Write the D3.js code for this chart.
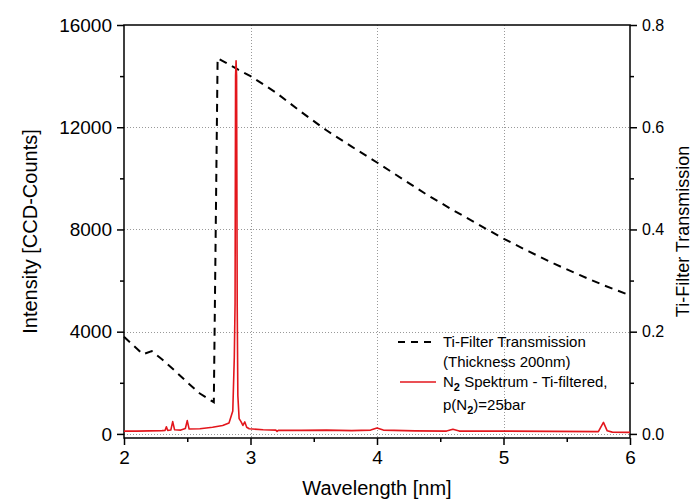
<!DOCTYPE html>
<html>
<head>
<meta charset="utf-8">
<script src="https://cdn.jsdelivr.net/npm/d3@7"></script>
<style>
  body { margin: 0; background: #fff; }
  svg { font-family: "Liberation Sans", Arial, sans-serif; }
</style>
</head>
<body>
<svg id="chart" width="699" height="503"></svg>
<script>
// Ti-filter transmission (right axis)
const transX = [2.00, 2.07, 2.15, 2.22, 2.30, 2.40, 2.50, 2.60, 2.71, 2.74, 2.80, 2.90, 3.00, 3.20, 3.40, 3.60, 3.80, 4.00, 4.20, 4.40, 4.60, 4.80, 5.00, 5.20, 5.40, 5.60, 5.80, 6.00];
const transY = [0.190, 0.174, 0.156, 0.162, 0.146, 0.124, 0.101, 0.079, 0.062, 0.735, 0.727, 0.713, 0.700, 0.668, 0.630, 0.594, 0.562, 0.531, 0.499, 0.467, 0.438, 0.410, 0.382, 0.357, 0.333, 0.311, 0.290, 0.271];

// N2 spectrum (left axis, CCD counts)
const specX = [2.00, 2.10, 2.20, 2.30, 2.325, 2.335, 2.345, 2.37, 2.385, 2.40, 2.45, 2.485, 2.50, 2.515, 2.60, 2.70, 2.78, 2.83, 2.86, 2.872, 2.878, 2.882, 2.886, 2.890, 2.895, 2.90, 2.91, 2.925, 2.94, 2.955, 2.97, 2.99, 3.10, 3.20, 3.21, 3.22, 3.40, 3.60, 3.80, 3.95, 4.00, 4.05, 4.30, 4.55, 4.60, 4.65, 5.00, 5.40, 5.75, 5.79, 5.82, 5.86, 6.00];
const specY = [110, 110, 120, 130, 140, 280, 140, 150, 480, 160, 150, 210, 520, 190, 200, 260, 330, 430, 900, 3000, 5100, 14000, 14600, 14000, 5000, 1500, 600, 480, 330, 470, 260, 200, 160, 150, 100, 140, 140, 150, 130, 150, 230, 150, 120, 110, 180, 110, 110, 100, 90, 450, 120, 70, 60];

const xTicks = [2, 3, 4, 5, 6];
const yLeftTicks = [0, 4000, 8000, 12000, 16000];
const yRightTicks = [0.0, 0.2, 0.4, 0.6, 0.8];

const svg = d3.select("#chart");
const margin = { left: 124, right: 69, top: 25, bottom: 65 };
const W = 699, H = 503;

const x = d3.scaleLinear().domain([2, 6]).range([margin.left, W - margin.right]);
const yL = d3.scaleLinear().domain([-160, 16000]).range([H - margin.bottom, margin.top]);
const yR = d3.scaleLinear().domain([-0.008, 0.8]).range([H - margin.bottom, margin.top]);

const x0 = margin.left, x1 = W - margin.right, yb = H - margin.bottom, yt = margin.top;

// grid
const grid = svg.append("g").attr("stroke", "#999").attr("stroke-width", 1).attr("stroke-dasharray", "1,2");
grid.selectAll("line.h").data(yLeftTicks.slice(0, -1)).join("line")
  .attr("x1", x0).attr("x2", x1)
  .attr("y1", d => Math.round(yL(d)) + 0.5).attr("y2", d => Math.round(yL(d)) + 0.5);
grid.selectAll("line.v").data(xTicks.slice(1, -1)).join("line")
  .attr("y1", yt).attr("y2", yb)
  .attr("x1", d => Math.round(x(d)) + 0.5).attr("x2", d => Math.round(x(d)) + 0.5);

// axes
const fmtInt = d3.format("d");
const leftAxis = d3.axisLeft(yL).tickValues(yLeftTicks).tickFormat(fmtInt).tickSize(7).tickPadding(5);
const leftMinor = d3.axisLeft(yL).tickValues(d3.range(2000, 16000, 4000)).tickFormat("").tickSize(4);
const rightAxis = d3.axisRight(yR).tickValues(yRightTicks).tickFormat(d3.format(".1f")).tickSize(7).tickPadding(5);
const rightMinor = d3.axisRight(yR).tickValues([0.1, 0.3, 0.5, 0.7]).tickFormat("").tickSize(4);
const bottomAxis = d3.axisBottom(x).tickValues(xTicks).tickFormat(fmtInt).tickSize(7).tickPadding(6);
const bottomMinor = d3.axisBottom(x).tickValues([2.5, 3.5, 4.5, 5.5]).tickFormat("").tickSize(4);

function styleAxis(g, fs) {
  g.select(".domain").remove();
  g.selectAll(".tick line").attr("stroke", "#000").attr("stroke-width", 1.5);
  g.selectAll(".tick text").attr("fill", "#000").style("font-size", fs + "px")
    .style("font-family", "'Liberation Sans', Arial, sans-serif");
}

svg.append("g").attr("transform", `translate(${x0},0)`).call(leftAxis).call(g => styleAxis(g, 19));
svg.append("g").attr("transform", `translate(${x0},0)`).call(leftMinor).call(g => styleAxis(g, 19));
svg.append("g").attr("transform", `translate(${x1},0)`).call(rightAxis).call(g => styleAxis(g, 16));
svg.append("g").attr("transform", `translate(${x1},0)`).call(rightMinor).call(g => styleAxis(g, 16));
svg.append("g").attr("transform", `translate(0,${yb})`).call(bottomAxis).call(g => styleAxis(g, 19));
svg.append("g").attr("transform", `translate(0,${yb})`).call(bottomMinor).call(g => styleAxis(g, 19));

// frame
svg.append("rect").attr("x", x0).attr("y", yt).attr("width", x1 - x0).attr("height", yb - yt)
  .attr("fill", "none").attr("stroke", "#000").attr("stroke-width", 1.5);

// transmission curve
const transData = transX.map((d, i) => [d, transY[i]]);
svg.append("path").datum(transData)
  .attr("fill", "none").attr("stroke", "#000").attr("stroke-width", 2)
  .attr("stroke-dasharray", "8,6")
  .attr("d", d3.line().x(d => x(d[0])).y(d => yR(d[1])));

// spectrum
const specData = specX.map((d, i) => [d, specY[i]]);
svg.append("path").datum(specData)
  .attr("fill", "none").attr("stroke", "#e3161c").attr("stroke-width", 1.6)
  .attr("stroke-linejoin", "round")
  .attr("d", d3.line().x(d => x(d[0])).y(d => yL(d[1])));

// axis titles
svg.append("text").attr("transform", `translate(37,${(yt + yb) / 2}) rotate(-90)`)
  .attr("text-anchor", "middle").style("font-size", "20px").text("Intensity [CCD-Counts]");
svg.append("text").attr("x", (x0 + x1) / 2).attr("y", 495)
  .attr("text-anchor", "middle").style("font-size", "20px").text("Wavelength [nm]");
svg.append("text").attr("transform", `translate(689,${(yt + yb) / 2}) rotate(-90)`)
  .attr("text-anchor", "middle").style("font-size", "18px").text("Ti-Filter Transmission");

// legend
const lg = svg.append("g").style("font-size", "15px");
lg.append("line").attr("x1", 398).attr("x2", 434).attr("y1", 342).attr("y2", 342)
  .attr("stroke", "#000").attr("stroke-width", 2).attr("stroke-dasharray", "7,6");
lg.append("text").attr("x", 443).attr("y", 347).text("Ti-Filter Transmission");
lg.append("text").attr("x", 443).attr("y", 367).text("(Thickness 200nm)");
lg.append("line").attr("x1", 400).attr("x2", 436).attr("y1", 382).attr("y2", 382)
  .attr("stroke", "#e3161c").attr("stroke-width", 1.6);
const t3 = lg.append("text").attr("x", 443).attr("y", 387);
t3.append("tspan").text("N");
t3.append("tspan").attr("dy", 4).style("font-size", "11px").style("font-weight", "bold").text("2");
t3.append("tspan").attr("dy", -4).text(" Spektrum - Ti-filtered,");
const t4 = lg.append("text").attr("x", 443).attr("y", 410);
t4.append("tspan").text("p(N");
t4.append("tspan").attr("dy", 4).style("font-size", "11px").style("font-weight", "bold").text("2");
t4.append("tspan").attr("dy", -4).text(")=25bar");
</script>
</body>
</html>
